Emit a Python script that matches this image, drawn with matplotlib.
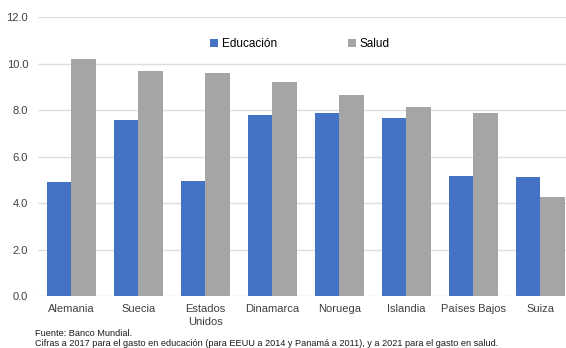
import matplotlib.pyplot as plt
import numpy as np

plt.rcParams['font.family'] = ['Liberation Sans', 'DejaVu Sans']

paises = ['Alemania', 'Suecia', 'Estados\nUnidos', 'Dinamarca', 'Noruega',
          'Islandia', 'Países Bajos', 'Suiza']
educacion = [4.89, 7.57, 4.95, 7.81, 7.89, 7.66, 5.16, 5.13]
salud = [10.21, 9.66, 9.61, 9.20, 8.65, 8.12, 7.86, 4.26]
yticks = [0, 2, 4, 6, 8, 10, 12]

fig = plt.figure(figsize=(5.66, 3.48), dpi=100)
ax = fig.add_axes([0.067, 0.149, 0.947, 0.802])

x = np.arange(len(paises))
w = 0.36
ax.bar(x - w/2, educacion, w, color='#4472C4', label='Educación', zorder=3)
ax.bar(x + w/2, salud, w, color='#A5A5A5', label='Salud', zorder=3)

ax.set_xlim(-0.5, len(paises) - 0.5)
ax.set_ylim(0, 12)
ax.set_yticks(yticks)
ax.set_yticklabels([f'{v:.1f}' for v in yticks])
ax.set_xticks(x)
ax.set_xticklabels(paises, fontsize=8, color='#404040', linespacing=1.3)
ax.tick_params(axis='y', labelsize=8, labelcolor='#404040', length=0, pad=7)
ax.tick_params(axis='x', length=0, pad=6)
ax.grid(axis='y', color='#dedede', linewidth=1, zorder=0)
for s in ax.spines.values():
    s.set_visible(False)

fig.legend(loc='center', bbox_to_anchor=(0.53, 0.874), ncol=2, frameon=False,
           fontsize=8.5, handlelength=0.7, handleheight=0.7, handletextpad=0.3,
           columnspacing=6)

fig.text(0.062, 0.035, 'Fuente: Banco Mundial.', fontsize=6.6, color='#1a1a1a')
fig.text(0.062, 0.006, 'Cifras a 2017 para el gasto en educación (para EEUU a 2014 y '
         'Panamá a 2011), y a 2021 para el gasto en salud.', fontsize=6.6,
         color='#1a1a1a')

fig.savefig('out.png', dpi=100)
